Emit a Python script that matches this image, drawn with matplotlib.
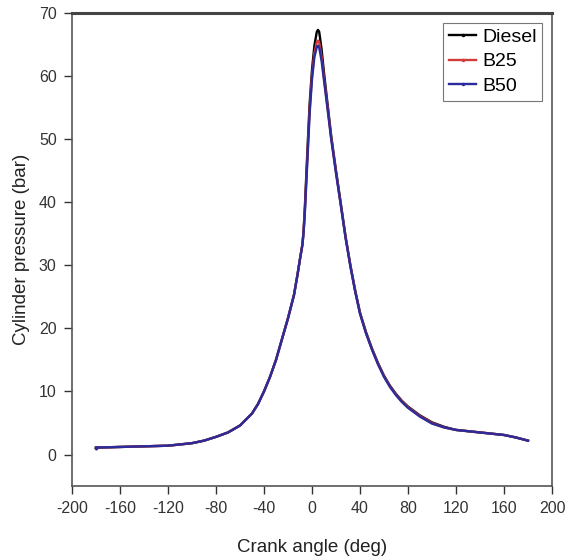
import matplotlib
matplotlib.use('Agg')
import matplotlib.pyplot as plt
import numpy as np

plt.rcParams['font.family'] = ['Liberation Sans', 'DejaVu Sans']
plt.rcParams['axes.unicode_minus'] = False

# crank angle (deg)
crank = [-180, -160, -140, -120, -100, -90, -80, -70, -60, -50, -45, -40, -35,
         -30, -25, -20, -15, -12, -10, -8, -7, -6, -4, -2, 0, 2, 4, 5, 6, 8,
         10, 13, 16, 20, 24, 28, 32, 36, 40, 45, 50, 55, 60, 65, 70, 75, 80,
         90, 100, 110, 120, 130, 140, 150, 160, 170, 180]

# cylinder pressure (bar)
diesel = [1.1, 1.2, 1.3, 1.4, 1.8, 2.2, 2.8, 3.5, 4.6, 6.5, 8.0, 10.0, 12.3,
          15.0, 18.3, 21.6, 25.3, 28.6, 31.0, 33.3, 35.5, 39.0, 47.5, 55.5,
          61.0, 64.8, 67.0, 67.3, 67.0, 64.2, 60.5, 55.5, 50.5, 45.0, 39.8,
          34.5, 30.0, 26.0, 22.5, 19.4, 16.8, 14.5, 12.5, 10.9, 9.6, 8.5,
          7.6, 6.2, 5.1, 4.4, 3.9, 3.7, 3.5, 3.3, 3.1, 2.7, 2.2]

b25 = [1.1, 1.2, 1.3, 1.4, 1.8, 2.2, 2.8, 3.5, 4.6, 6.5, 8.0, 10.0, 12.3,
       15.0, 18.3, 21.6, 25.3, 28.6, 31.0, 33.3, 35.3, 38.5, 46.5, 54.5,
       60.0, 63.6, 65.4, 65.6, 65.3, 63.0, 59.7, 55.0, 50.2, 44.8, 39.6,
       34.4, 29.9, 25.9, 22.4, 19.3, 16.7, 14.4, 12.4, 10.8, 9.5, 8.4,
       7.5, 6.1, 5.0, 4.3, 3.9, 3.7, 3.5, 3.3, 3.1, 2.7, 2.2]

b50 = [1.1, 1.2, 1.3, 1.4, 1.8, 2.2, 2.8, 3.5, 4.6, 6.5, 8.0, 10.0, 12.3,
       15.0, 18.3, 21.6, 25.3, 28.6, 31.0, 33.2, 35.2, 38.2, 46.0, 54.0,
       59.5, 63.0, 64.6, 64.8, 64.5, 62.4, 59.3, 54.7, 50.0, 44.6, 39.5,
       34.3, 29.8, 25.8, 22.3, 19.2, 16.6, 14.3, 12.3, 10.7, 9.4, 8.3,
       7.4, 6.0, 4.9, 4.3, 3.9, 3.7, 3.5, 3.3, 3.1, 2.7, 2.2]

series = [('Diesel', diesel, 'black'), ('B25', b25, '#d23c3c'), ('B50', b50, '#2b2b9c')]


def main():
    fig = plt.figure(figsize=(5.74, 5.6), dpi=100)
    ax = fig.add_axes([0.1254, 0.132, 0.8363, 0.845])

    for name, vals, col in series:
        ax.plot(crank, vals, color=col, lw=1.7, marker='o', markersize=1.5,
                markevery=[0], label=name)

    ax.set_xlim(-200, 200)
    ax.set_ylim(-5, 70)
    ax.set_xticks(np.arange(-200, 201, 40))
    ax.set_yticks(np.arange(0, 71, 10))
    ax.tick_params(direction='out', length=6, width=1, labelsize=11.5,
                   colors='#333333', top=False, right=False, pad=5)
    for side in ['left', 'bottom', 'right']:
        ax.spines[side].set_color('#555555')
        ax.spines[side].set_linewidth(1.2)
    ax.spines['top'].set_color('#444444')
    ax.spines['top'].set_linewidth(2.2)

    ax.set_xlabel('Crank angle (deg)', fontsize=13.5, color='#222222', labelpad=16)
    ax.set_ylabel('Cylinder pressure (bar)', fontsize=13.5, color='#222222', labelpad=6)

    leg = ax.legend(loc='upper right', fontsize=14, frameon=True, fancybox=False,
                    handlelength=1.4, handletextpad=0.3, borderpad=0.3,
                    labelspacing=0.35, borderaxespad=0.5)
    leg.get_frame().set_edgecolor('#555555')
    leg.get_frame().set_linewidth(0.8)

    fig.savefig('out.png', dpi=100)


if __name__ == '__main__':
    main()
